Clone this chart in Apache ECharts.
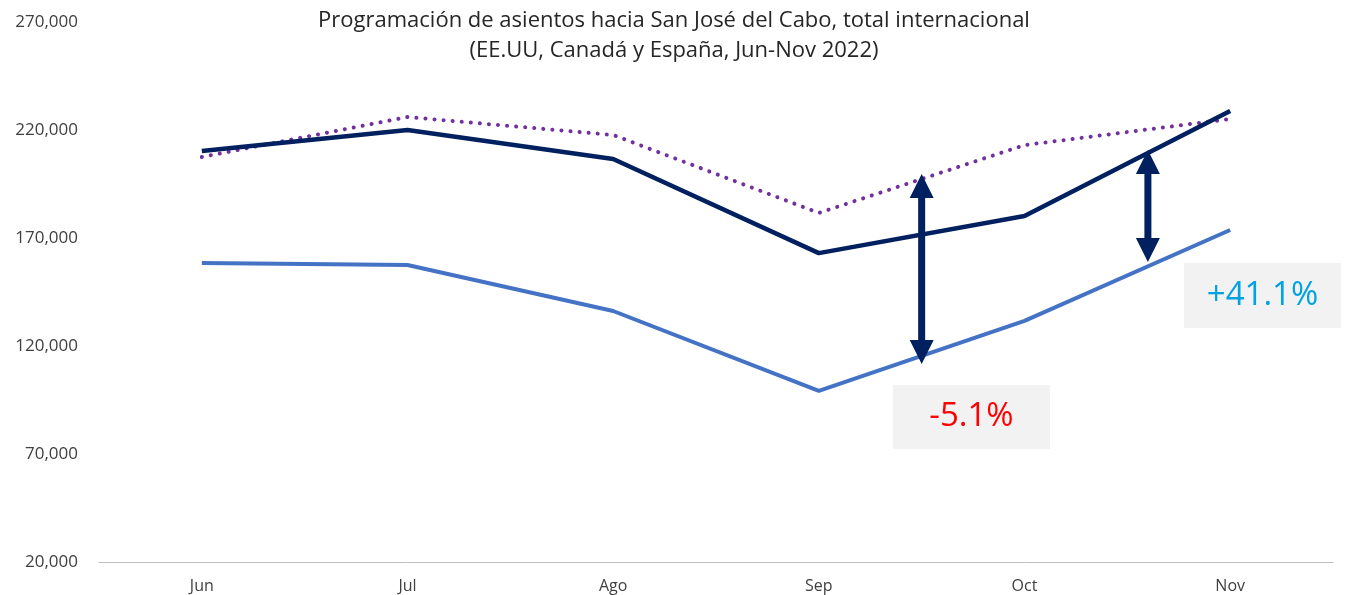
<!DOCTYPE html>
<html><head><meta charset="utf-8">
<script src="https://cdn.jsdelivr.net/npm/echarts@6/dist/echarts.min.js"></script>
<style>html,body{margin:0;padding:0;background:#fff}#c{width:1348px;height:595px}</style>
</head><body><div id="c"></div>
<script>
const categories = ['Jun','Jul','Ago','Sep','Oct','Nov'];
const serieNavy = [210300, 220000, 206600, 163000, 180200, 228800];
const serieDotted = [207500, 226000, 217700, 181600, 213000, 225100];
const serieLight = [158400, 157500, 136200, 99200, 131600, 173700];
const yTicks = {min: 20000, max: 270000, interval: 50000};
const titleLines = ['Programación de asientos hacia San José del Cabo, total internacional', '(EE.UU, Canadá y España, Jun-Nov 2022)'];
// annotations: [category position (fractional index), y from, y to]
const arrow1 = [3.5, 111700, 199600];
const arrow2 = [4.6, 158900, 210700];
const label1 = '-5.1%';
const label2 = '+41.1%';

const FONT = '"Open Sans", Lato, sans-serif';
const chart = echarts.init(document.getElementById('c'));
chart.setOption({
  animation: false,
  title: {
    text: titleLines.join('\n'), left: 'center', top: 1,
    textStyle: {fontFamily: FONT, fontSize: 22, fontWeight: 'normal', color: '#262626', lineHeight: 30}
  },
  grid: {left: 99, right: 15, top: 22, bottom: 33, containLabel: false},
  xAxis: {
    type: 'category', data: categories, boundaryGap: true,
    axisLine: {lineStyle: {color: '#bfbfbf', width: 1}},
    axisTick: {show: false},
    axisLabel: {fontFamily: FONT, fontSize: 16, color: '#404040', margin: 16}
  },
  yAxis: {
    type: 'value', min: yTicks.min, max: yTicks.max, interval: yTicks.interval,
    axisLine: {show: false}, axisTick: {show: false}, splitLine: {show: false},
    axisLabel: {fontFamily: FONT, fontSize: 17, color: '#404040', margin: 21,
      formatter: v => v.toLocaleString('en-US')}
  },
  series: [
    {type: 'line', data: serieDotted, symbol: 'none', lineStyle: {color: '#7030a0', width: 4, type: [0.1, 9], cap: 'round'}, z: 3},
    {type: 'line', data: serieNavy, symbol: 'none', lineStyle: {color: '#002060', width: 4.5}, z: 4},
    {type: 'line', data: serieLight, symbol: 'none', lineStyle: {color: '#4472c4', width: 4}, z: 2}
  ]
});

function xPix(f) {
  const i = Math.floor(f), t = f - i;
  const a = chart.convertToPixel({xAxisIndex: 0}, i);
  const b = chart.convertToPixel({xAxisIndex: 0}, Math.min(i + 1, categories.length - 1));
  return a + (b - a) * t;
}
function yPix(v) { return chart.convertToPixel({yAxisIndex: 0}, v); }
function arrow(spec) {
  const x = xPix(spec[0]);
  const yb = yPix(spec[1]), yt = yPix(spec[2]);
  const hw = 12, hl = 24, sw = 3.5;
  return {
    type: 'polygon', z: 10,
    shape: {points: [
      [x, yt], [x + hw, yt + hl], [x + sw, yt + hl], [x + sw, yb - hl], [x + hw, yb - hl],
      [x, yb], [x - hw, yb - hl], [x - sw, yb - hl], [x - sw, yt + hl], [x - hw, yt + hl]
    ]},
    style: {fill: '#002060'}
  };
}
function box(x, y, w, h, text, color) {
  return {
    type: 'group', x: x, y: y, z: 9,
    children: [
      {type: 'rect', shape: {x: 0, y: 0, width: w, height: h}, style: {fill: '#f2f2f2'}},
      {type: 'text', x: w / 2, y: h / 2, style: {text: text, fill: color, fontFamily: FONT, fontSize: 33, align: 'center', verticalAlign: 'middle'}}
    ]
  };
}
chart.setOption({
  graphic: [
    arrow(arrow1), arrow(arrow2),
    box(893, 385, 157, 64, label1, '#ff0000'),
    box(1184, 263, 157, 65, label2, '#00a3e0')
  ]
});
</script></body></html>
